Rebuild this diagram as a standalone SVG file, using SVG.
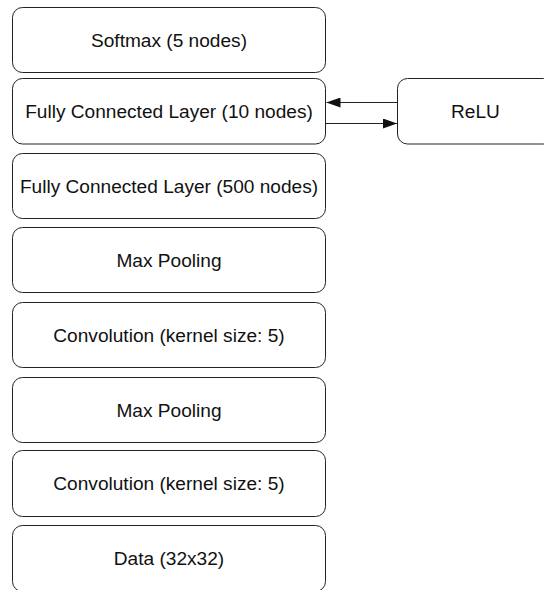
<svg xmlns="http://www.w3.org/2000/svg" width="544" height="590" viewBox="0 0 544 590">
<defs>
<style>
.box{fill:#fff;stroke:#222;stroke-width:1}
.lbl{font-family:"Liberation Sans",Arial,sans-serif;font-size:19.1px;fill:#111;text-anchor:middle}
.edge{stroke:#222;stroke-width:1;fill:none}
</style>
<marker id="ah" viewBox="0 0 14 10" refX="14" refY="5" markerWidth="14" markerHeight="10" markerUnits="userSpaceOnUse" orient="auto">
<path d="M0,0 L14,5 L0,10 Z" fill="#111"/>
</marker>
</defs>
<rect width="544" height="590" fill="#fff"/>
<g id="softmax"><rect class="box" x="12.5" y="7.5" width="313" height="65" rx="10"/><text class="lbl" x="169" y="46.8">Softmax (5 nodes)</text></g>
<g id="fc10"><rect class="box" x="12.5" y="78.5" width="313" height="65.5" rx="10"/><text class="lbl" x="169" y="118">Fully Connected Layer (10 nodes)</text></g>
<g id="fc500"><rect class="box" x="12.5" y="153.5" width="313" height="65" rx="10"/><text class="lbl" x="169" y="192.8">Fully Connected Layer (500 nodes)</text></g>
<g id="maxpool2"><rect class="box" x="12.5" y="227.5" width="313" height="65" rx="10"/><text class="lbl" x="169" y="266.8">Max Pooling</text></g>
<g id="conv2"><rect class="box" x="12.5" y="302.5" width="313" height="65" rx="10"/><text class="lbl" x="169" y="341.8">Convolution (kernel size: 5)</text></g>
<g id="maxpool1"><rect class="box" x="12.5" y="377.5" width="313" height="65" rx="10"/><text class="lbl" x="169" y="416.8">Max Pooling</text></g>
<g id="conv1"><rect class="box" x="12.5" y="450.5" width="313" height="66" rx="10"/><text class="lbl" x="169" y="490.3">Convolution (kernel size: 5)</text></g>
<g id="data"><rect class="box" x="12.5" y="525.5" width="313" height="66" rx="10"/><text class="lbl" x="169" y="565.3">Data (32x32)</text></g>
<g id="relu"><rect class="box" x="397.5" y="78.5" width="156" height="65.5" rx="10"/><text class="lbl" x="475.5" y="118">ReLU</text></g>
<g id="connectors">
<line class="edge" x1="397.5" y1="102.5" x2="326.5" y2="102.5" marker-end="url(#ah)"/>
<line class="edge" x1="325.5" y1="123.5" x2="397" y2="123.5" marker-end="url(#ah)"/>
</g>
</svg>
